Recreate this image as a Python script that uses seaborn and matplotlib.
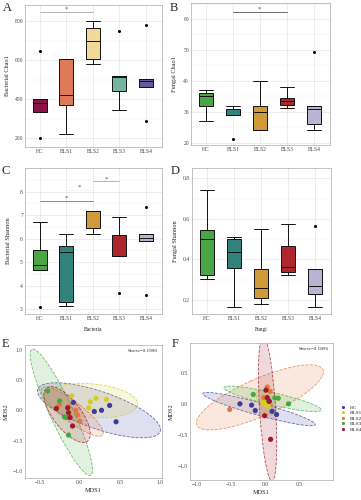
import numpy as np
import pandas as pd
import matplotlib
matplotlib.use("Agg")
import matplotlib.pyplot as plt
from matplotlib.patches import Ellipse
from matplotlib.colors import to_rgba
from matplotlib.ticker import AutoMinorLocator
import seaborn as sns

groups = ["HC", "BLS1", "BLS2", "BLS3", "BLS4"]

# alpha diversity: 9 values per group, read off the boxes
# (low whisker / outlier, quartiles, median, high whisker / outlier)
bac_chao1 = {
    "HC":   [198, 333, 333, 360, 380, 390, 400, 400, 648],
    "BLS1": [219, 219, 368, 400, 419, 500, 605, 605, 605],
    "BLS2": [580, 580, 603, 650, 700, 730, 762, 798, 798],
    "BLS3": [342, 342, 440, 480, 515, 516, 518, 518, 750],
    "BLS4": [287, 463, 463, 480, 492, 500, 504, 504, 778],
}
fun_chao1 = {
    "HC":   [27.0, 27.0, 31.9, 33.5, 35.0, 35.6, 36.1, 37.1, 37.1],
    "BLS1": [21.0, 28.8, 28.8, 28.9, 29.0, 30.0, 31.0, 31.9, 31.9],
    "BLS2": [24.1, 24.1, 24.1, 27.0, 30.0, 31.0, 31.9, 40.0, 40.0],
    "BLS3": [31.2, 31.2, 32.0, 32.6, 33.3, 33.9, 34.5, 38.1, 38.1],
    "BLS4": [24.1, 24.1, 26.0, 28.0, 31.0, 31.5, 31.9, 31.9, 49.2],
}
bac_shannon = {
    "HC":   [3.07, 4.65, 4.65, 4.75, 4.88, 5.20, 5.50, 6.72, 6.72],
    "BLS1": [3.13, 3.13, 3.31, 4.50, 5.41, 5.55, 5.68, 6.21, 6.21],
    "BLS2": [6.18, 6.18, 6.44, 6.80, 7.19, 7.19, 7.19, 7.19, 7.19],
    "BLS3": [3.68, 5.27, 5.27, 5.27, 5.27, 5.70, 6.14, 6.91, 6.91],
    "BLS4": [3.60, 5.88, 5.88, 5.95, 6.04, 6.10, 6.18, 6.18, 7.32],
}
fun_shannon = {
    "HC":   [0.302, 0.302, 0.323, 0.420, 0.499, 0.520, 0.543, 0.742, 0.742],
    "BLS1": [0.164, 0.164, 0.356, 0.400, 0.435, 0.470, 0.500, 0.510, 0.510],
    "BLS2": [0.178, 0.178, 0.208, 0.230, 0.257, 0.300, 0.351, 0.548, 0.548],
    "BLS3": [0.323, 0.323, 0.339, 0.350, 0.362, 0.410, 0.466, 0.573, 0.573],
    "BLS4": [0.164, 0.164, 0.228, 0.250, 0.269, 0.310, 0.354, 0.354, 0.565],
}

# NMDS coordinates (5 samples per group)
bac_mds1 = {
    "HC":   [-0.08, 0.18, 0.27, 0.37, 0.45],
    "BLS1": [-0.10, 0.13, 0.20, 0.11, 0.33],
    "BLS2": [-0.255, -0.05, 0.00, -0.03, -0.14],
    "BLS3": [-0.40, -0.25, -0.19, -0.165, -0.14],
    "BLS4": [-0.29, -0.15, -0.12, -0.09, -0.14],
}
bac_mds2 = {
    "HC":   [0.13, -0.02, 0.00, 0.08, -0.19],
    "BLS1": [0.24, 0.14, 0.20, 0.04, 0.18],
    "BLS2": [0.09, 0.00, -0.18, -0.08, 0.06],
    "BLS3": [0.32, 0.155, -0.11, -0.12, -0.41],
    "BLS4": [0.03, 0.04, -0.12, -0.26, -0.04],
}
fun_mds1 = {
    "HC":   [-0.37, -0.146, 0.165, 0.10, -0.20],
    "BLS1": [-0.03, 0.02, 0.00, 0.04, -0.04],
    "BLS2": [-0.52, 0.07, 0.03, 0.05, -0.02],
    "BLS3": [-0.175, 0.14, 0.19, 0.34, 0.044],
    "BLS4": [-0.01, 0.078, 0.03, 0.06, 0.01],
}
fun_mds2 = {
    "HC":   [0.00, -0.107, -0.171, -0.12, -0.02],
    "BLS1": [0.01, -0.03, 0.09, -0.04, 0.05],
    "BLS2": [-0.09, 0.20, 0.27, 0.04, 0.10],
    "BLS3": [0.15, 0.096, 0.09, 0.00, 0.064],
    "BLS4": [-0.19, -0.568, 0.10, 0.04, 0.22],
}
bac_stress = "Stress=0.1990"
fun_stress = "Stress=0.1896"

pal_bac = ["#9e0142", "#f46d43", "#fee08b", "#66c2a5", "#5e4fa2"]
pal_fun = ["#3cb632", "#239086", "#e8a21e", "#c4101c", "#b4afd9"]
pal_mds = ["#3c3c9c", "#d6cc28", "#e2763c", "#42aa3c", "#a0182a"]

sns.set_theme(style="whitegrid")
plt.rcParams["font.family"] = ["Liberation Serif", "DejaVu Serif"]
plt.rcParams["axes.edgecolor"] = "#b8b8b8"
plt.rcParams["grid.color"] = "#e6e6e6"

fig = plt.figure(figsize=(3.61, 5.0), dpi=100)


def box(l, t, r, b):
    return [l / 361, 1 - b / 500, (r - l) / 361, (b - t) / 500]


def long_df(d):
    return pd.DataFrame([(g, v) for g in groups for v in d[g]], columns=["group", "value"])


def style_ax(ax):
    ax.tick_params(labelsize=4, length=0, pad=1.5, colors="#444444")
    ax.yaxis.set_minor_locator(AutoMinorLocator(2))
    ax.grid(True, which="major", lw=0.5, color="#e6e6e6")
    ax.grid(True, which="minor", axis="y", lw=0.35, color="#efefef")
    for s in ax.spines.values():
        s.set_linewidth(0.6)
    ax.set_axisbelow(True)


def draw_box(rect, d, pal, ylabel, xlabel, ylim, yticks):
    ax = fig.add_axes(box(*rect))
    kw = dict(data=long_df(d), x="group", y="value", hue="group", palette=pal,
              order=groups, legend=False, width=0.53, linewidth=0.7, linecolor="#111111",
              fliersize=1.2, flierprops={"marker": "o", "markerfacecolor": "black",
                                         "markeredgecolor": "black"}, ax=ax)
    try:
        sns.boxplot(capwidths=0.53, **kw)
    except Exception:
        ax.cla()
        sns.boxplot(**kw)
    ax.set_xlim(-0.55, 4.6)
    ax.set_ylim(*ylim)
    ax.set_yticks(yticks)
    ax.set_xlabel(xlabel, fontsize=4, labelpad=4)
    ax.set_ylabel(ylabel, fontsize=4.5, labelpad=3)
    style_ax(ax)
    ax.xaxis.grid(True)
    return ax


def sig(ax, x0, x1, y, color="#777777"):
    ax.plot([x0, x1], [y, y], color=color, lw=0.6)
    ax.text((x0 + x1) / 2, y, "*", ha="center", va="bottom", fontsize=5, color="#555555")


axA = draw_box((25, 5, 162, 147), bac_chao1, pal_bac, "Bacterial Chao1", "",
               (154, 882), [200, 400, 600, 800])
sig(axA, 0, 2, 846, "#aaaaaa")

axB = draw_box((191, 3, 330, 145), fun_chao1, pal_fun, "Fungal Chao1", "",
               (19.2, 65.2), [20, 30, 40, 50, 60])
sig(axB, 1, 3, 62.4, "#555555")

axC = draw_box((25, 168, 162, 314), bac_shannon, pal_fun, "Bacterial Shannon", "Bacteria",
               (2.79, 9.0), [3, 4, 5, 6, 7, 8])
sig(axC, 0, 2, 7.6, "#777777")
sig(axC, 1, 2, 8.07, "#f2f2f2")
sig(axC, 2, 3, 8.44, "#aaaaaa")

axD = draw_box((192, 168, 331, 314), fun_shannon, pal_fun, "Fungal Shannon", "Fungi",
               (0.131, 0.851), [0.2, 0.4, 0.6, 0.8])


def conf_ellipse(ax, x, y, color):
    x = np.asarray(x)
    y = np.asarray(y)
    d = len(x) - 1
    fq = d / 2 * (0.05 ** (-2 / d) - 1)
    r = np.sqrt(2 * fq)
    vals, vecs = np.linalg.eigh(np.cov(x, y))
    angle = np.degrees(np.arctan2(vecs[1, 1], vecs[0, 1]))
    ax.add_patch(Ellipse((x.mean(), y.mean()), 2 * r * np.sqrt(vals[1]), 2 * r * np.sqrt(vals[0]),
                         angle=angle, facecolor=to_rgba(color, 0.16),
                         edgecolor=to_rgba(color, 0.75), lw=0.6, ls="--", zorder=1))


def draw_nmds(rect, xs, ys, stress, xlim, ylim, xticks, yticks, legend):
    ax = fig.add_axes(box(*rect))
    for g, c in zip(groups, pal_mds):
        conf_ellipse(ax, xs[g], ys[g], c)
    df = pd.DataFrame([(g, a, b) for g in groups for a, b in zip(xs[g], ys[g])],
                      columns=["group", "MDS1", "MDS2"])
    sns.scatterplot(data=df, x="MDS1", y="MDS2", hue="group", hue_order=groups,
                    palette=pal_mds, s=14, edgecolor="none", legend=legend, zorder=3, ax=ax)
    ax.set_xlim(*xlim)
    ax.set_ylim(*ylim)
    ax.set_xticks(xticks)
    ax.set_yticks(yticks)
    ax.set_xlabel("MDS1", fontsize=4.5, labelpad=2)
    ax.set_ylabel("MDS2", fontsize=4.5, labelpad=3)
    style_ax(ax)
    ax.grid(False, which="both")
    ax.text(0.97, 0.97, stress, transform=ax.transAxes, ha="right", va="top", fontsize=3.8)
    return ax


axE = draw_nmds((25, 345, 162, 478), bac_mds1, bac_mds2, bac_stress,
                (-0.68, 1.02), (-1.12, 1.08), [-0.5, 0.0, 0.5, 1.0], [-1.0, -0.5, 0.0, 0.5, 1.0], False)
axF = draw_nmds((190, 343, 333, 480), fun_mds1, fun_mds2, fun_stress,
                (-1.10, 0.99), (-1.22, 0.975), [-1.0, -0.5, 0.0, 0.5], [-1.0, -0.5, 0.0, 0.5], True)
leg = axF.legend(loc="center left", bbox_to_anchor=(1.02, 0.45), fontsize=3.8, frameon=False,
                 handletextpad=0.2, labelspacing=0.15, markerscale=0.6, borderaxespad=0)

for ax, lab, x, y in [(axA, "A", 3, 2), (axB, "B", 170, 2), (axC, "C", 2, 165),
                      (axD, "D", 171, 165), (axE, "E", 2, 338), (axF, "F", 172, 338)]:
    fig.text(x / 361, 1 - y / 500, lab, fontsize=9, va="top", ha="left")

fig.savefig("out.png", dpi=100)
